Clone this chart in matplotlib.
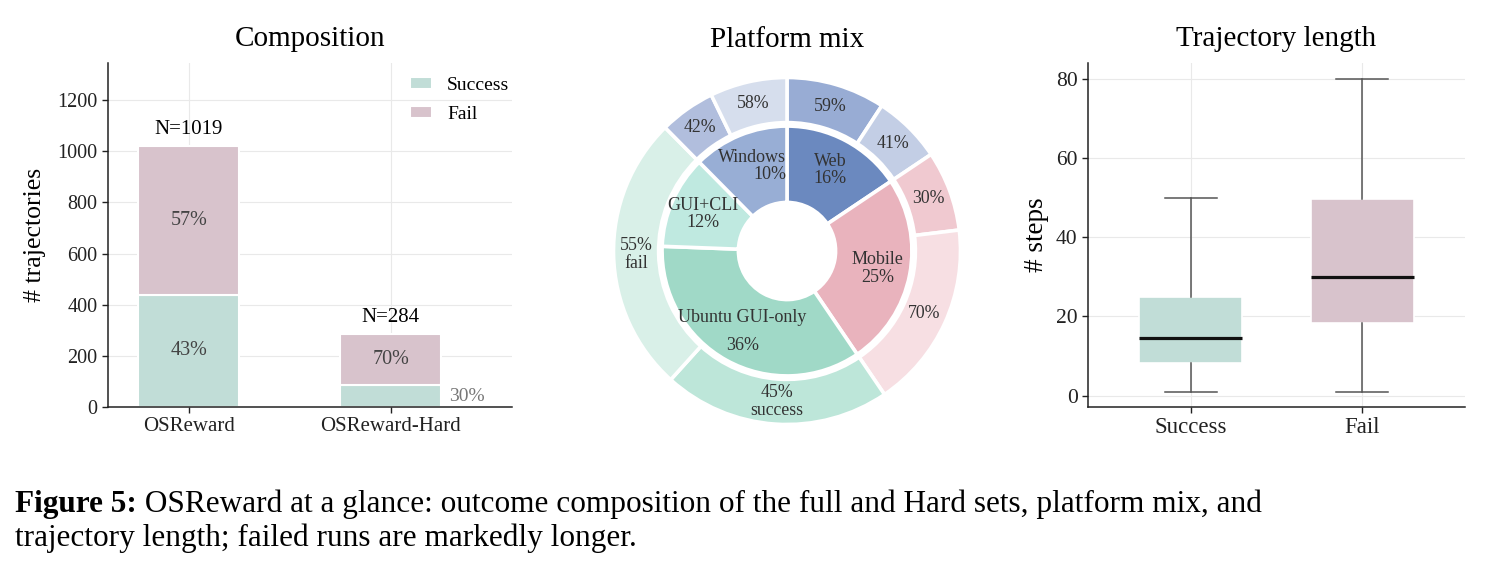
import numpy as np
import matplotlib as mpl
import matplotlib.pyplot as plt

# fonts etc.
# ----------
mpl.rcParams.update({
    "font.family": "serif",
    "font.serif": ["Liberation Serif", "DejaVu Serif"],
    "axes.edgecolor": "#222222",
    "axes.linewidth": 1.1,
    "xtick.color": "#222222",
    "ytick.color": "#222222",
})

# data
# --------------------------
sets = ['OSReward', 'OSReward-Hard']
set_totals = [1019, 284]
set_success = [438, 85]
set_fail = [581, 199]
succ_pct = ['43%', '30%']
fail_pct = ['57%', '70%']

platforms = ['Web', 'Mobile', 'Ubuntu GUI-only', 'GUI+CLI', 'Windows']
platform_share = [15.6, 24.9, 35.1, 12.0, 12.4]      # wedge sizes as drawn
platform_pct = ['16%', '25%', '36%', '12%', '10%']   # printed labels

outer_groups = ['Web', 'Mobile', 'Ubuntu', 'Windows']
outer_share = [15.6, 24.9, 47.1, 12.4]
outer_success_rate = [59, 30, 45, 42]

box_groups = ['Success', 'Fail']
steps_whislo = [1, 1]
steps_q1 = [8.3, 18.4]
steps_med = [14.5, 30.0]
steps_q3 = [24.8, 49.7]
steps_whishi = [50, 80]

# colours
c_succ = '#c1ddd7'
c_fail = '#d8c3cc'
inner_colors = ['#6b89bf', '#e9b3bd', '#a0d9c7', '#bfe9e0', '#98aed5']
outer_colors = [('#98acd4', '#c3cee5'),
                ('#f0c9d0', '#f7dfe3'),
                ('#bde6d9', '#d9f0e8'),
                ('#b1bedd', '#d6deed')]
grid_c = '#e9e9e9'

W, H = 1492, 569
fig = plt.figure(figsize=(W / 100, H / 100), dpi=100)


def px_axes(l, t, r, b):
    return fig.add_axes([l / W, 1 - b / H, (r - l) / W, (b - t) / H])


def style(ax):
    ax.spines['top'].set_visible(False)
    ax.spines['right'].set_visible(False)
    ax.grid(True, color=grid_c, linewidth=0.8)
    ax.set_axisbelow(True)
    ax.tick_params(length=4, width=1)


# composition
# -----------
ax1 = px_axes(108, 63, 512, 407)
style(ax1)
x = np.arange(len(sets))
ax1.bar(x, set_success, width=0.5, color=c_succ, edgecolor='white', linewidth=1.5, label='Success')
ax1.bar(x, set_fail, width=0.5, bottom=set_success, color=c_fail, edgecolor='white', linewidth=1.5, label='Fail')
for i in range(len(sets)):
    ax1.text(x[i], set_totals[i] + 28, 'N=%d' % set_totals[i], ha='center', va='bottom', fontsize=15)
    ax1.text(x[i], set_success[i] + set_fail[i] / 2, fail_pct[i], ha='center', va='center',
             fontsize=14.5, color='#444444')
ax1.text(x[0], set_success[0] / 2, succ_pct[0], ha='center', va='center', fontsize=14.5, color='#444444')
# hard set success slice is too thin, label goes beside the bar
ax1.text(x[1] + 0.29, set_success[1] / 2, succ_pct[1], ha='left', va='center', fontsize=14, color='#777777')
ax1.set_xlim(-0.4, 1.6)
ax1.set_ylim(0, 1345)
ax1.set_yticks(range(0, 1201, 200))
ax1.set_xticks(x)
ax1.set_xticklabels(sets, fontsize=15)
ax1.tick_params(axis='y', labelsize=14.5)
ax1.set_ylabel('# trajectories', fontsize=18.5, labelpad=8)
ax1.set_title('Composition', fontsize=21, pad=12)
ax1.legend(loc='upper right', bbox_to_anchor=(1.013, 0.982), frameon=False, fontsize=14,
           handlelength=1.1, handleheight=0.57, handletextpad=0.8,
           borderaxespad=0.0, labelspacing=0.6)

# platform mix
# ------------
ax2 = px_axes(787 - 173.5, 251 - 173.5, 787 + 173.5, 251 + 173.5)
ax2.axis('off')

outer_vals = []
outer_cols = []
outer_labels = []
for g in range(len(outer_groups)):
    r = outer_success_rate[g]
    outer_vals += [outer_share[g] * r / 100, outer_share[g] * (100 - r) / 100]
    outer_cols += list(outer_colors[g])
    if outer_groups[g] == 'Ubuntu':
        outer_labels += ['%d%%\nsuccess' % r, '%d%%\nfail' % (100 - r)]
    else:
        outer_labels += ['%d%%' % r, '%d%%' % (100 - r)]

wp = dict(edgecolor='white', linewidth=2.6)
w_out, _ = ax2.pie(outer_vals, radius=1.0, colors=outer_cols, startangle=90, counterclock=False,
                   wedgeprops=dict(width=0.26, **wp))
w_in, _ = ax2.pie(platform_share, radius=0.72, colors=inner_colors, startangle=90, counterclock=False,
                  wedgeprops=dict(width=0.44, **wp))
ax2.set_xlim(-1, 1)
ax2.set_ylim(-1, 1)

for w, lab in zip(w_out, outer_labels):
    a = np.deg2rad((w.theta1 + w.theta2) / 2)
    ax2.text(0.87 * np.cos(a), 0.87 * np.sin(a), lab, ha='center', va='center',
             fontsize=12.8, color='#333333', linespacing=1.1)

for w, name, pct in zip(w_in, platforms, platform_pct):
    a = np.deg2rad((w.theta1 + w.theta2) / 2)
    ls = 1.9 if name.startswith('Ubuntu') else 1.05
    ma = 'right' if name == 'Windows' else 'center'
    ax2.text(0.53 * np.cos(a), 0.53 * np.sin(a), name + '\n' + pct, ha='center', va='center',
             fontsize=13, color='#333333', linespacing=ls, multialignment=ma)

ax2.set_title('Platform mix', fontsize=21, pad=22)

# trajectory length
# -----------------
ax3 = px_axes(1088, 63, 1465, 407)
style(ax3)
stats = []
for i in range(len(box_groups)):
    stats.append(dict(label=box_groups[i], whislo=steps_whislo[i], q1=steps_q1[i], med=steps_med[i],
                      q3=steps_q3[i], whishi=steps_whishi[i], fliers=[]))
bp = ax3.bxp(stats, positions=[0, 1], widths=0.6, patch_artist=True, showfliers=False,
             boxprops=dict(edgecolor='white', linewidth=1.2),
             medianprops=dict(color='#111111', linewidth=2.3),
             whiskerprops=dict(color='#555555', linewidth=1.1),
             capprops=dict(color='#555555', linewidth=1.1))
for patch, c in zip(bp['boxes'], [c_succ, c_fail]):
    patch.set_facecolor(c)
ax3.set_xlim(-0.6, 1.6)
ax3.set_ylim(-2.9, 84)
ax3.set_yticks(range(0, 81, 20))
ax3.tick_params(axis='x', labelsize=16.5)
ax3.tick_params(axis='y', labelsize=15.5)
ax3.set_ylabel('# steps', fontsize=19.5, labelpad=5)
ax3.set_title('Trajectory length', fontsize=21, pad=12)

# caption
# -------
fs = 22.5
renderer = fig.canvas.get_renderer()
t_b = fig.text(15 / W, 1 - 512 / H, 'Figure 5:', fontsize=fs, weight='bold', va='baseline')
wb = t_b.get_window_extent(renderer).width
fig.text((15 + wb) / W, 1 - 512 / H,
         ' OSReward at a glance: outcome composition of the full and Hard sets, platform mix, and',
         fontsize=fs, va='baseline')
fig.text(15 / W, 1 - 546 / H, 'trajectory length; failed runs are markedly longer.', fontsize=fs, va='baseline')

fig.patch.set_facecolor('white')
fig.savefig('out.png', dpi=100)
